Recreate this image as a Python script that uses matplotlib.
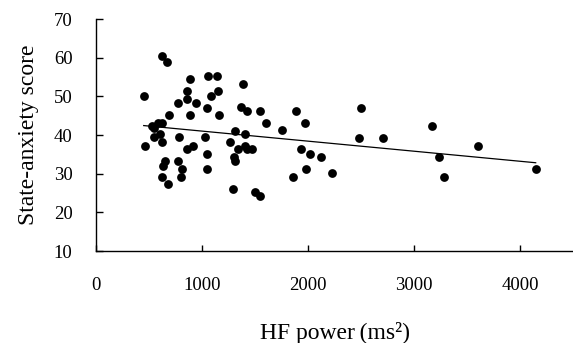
import numpy as np
import matplotlib.pyplot as plt

plt.rcParams['font.family'] = ['Liberation Serif', 'DejaVu Serif']

# HF power (ms^2) and state-anxiety score
hf_power = [450, 460, 625, 670, 525, 550, 582, 620, 550, 607,
            623, 689, 648, 629, 619, 682, 783, 774, 808, 799,
            774, 858, 858, 884, 943, 884, 855, 918, 1028, 1044,
            1044, 1050, 1057, 1138, 1085, 1154, 1160, 1267, 1305, 1311,
            1289, 1311, 1336, 1384, 1368, 1425, 1406, 1406, 1421, 1469,
            1503, 1544, 1544, 1607, 1752,
            1887, 1969, 1931, 2022, 2122, 1978, 1862, 2223, 2502, 2477,
            2703, 3174, 3234, 3281, 3601, 4148]
anxiety = [50.1, 37.2, 60.4, 59.0, 42.3, 41.7, 43.0, 43.2, 39.4, 40.2,
           38.1, 45.3, 33.3, 32.1, 29.2, 27.4, 39.4, 33.3, 31.2, 29.2,
           48.3, 51.4, 49.2, 54.4, 48.3, 45.2, 36.3, 37.2, 39.4, 35.1,
           31.2, 47.1, 55.2, 55.2, 50.1, 51.3, 45.2, 38.2, 34.2, 33.3,
           26.1, 41.1, 36.3, 53.2, 47.3, 46.2, 40.2, 37.2, 36.3, 36.3,
           25.3, 24.2, 46.3, 43.2, 41.2,
           46.2, 43.2, 36.3, 35.1, 34.2, 31.1, 29.1, 30.2, 47.1, 39.3,
           39.3, 42.3, 34.2, 29.1, 37.1, 31.1]

x = np.array(hf_power)
y = np.array(anxiety)
slope, intercept = np.polyfit(x, y, 1)
xfit = np.array([x.min(), x.max()])

fig = plt.figure(figsize=(5.73, 3.43), dpi=100)
ax = fig.add_axes([96/573, 1-251/343, 1-96/573, 232/343])

ax.scatter(x, y, s=40, color='black', zorder=3, linewidths=0)
ax.plot(xfit, intercept + slope*xfit, color='black', lw=0.9)

ax.set_xlim(0, 4500)
ax.set_ylim(10, 70)
ax.set_xticks([0, 1000, 2000, 3000, 4000])
ax.set_yticks(range(10, 71, 10))
for s in ['top', 'right']:
    ax.spines[s].set_visible(False)
for s in ['left', 'bottom']:
    ax.spines[s].set_linewidth(1.0)
ax.tick_params(axis='y', direction='in', length=5, width=1.0, pad=17, labelsize=13.5)
ax.tick_params(axis='x', direction='in', length=4.5, width=1.0, pad=19, labelsize=13.5)

ax.set_xlabel('HF power\u2009(ms²)', fontsize=17)
ax.xaxis.set_label_coords(0.5, -0.353)
ax.xaxis.label.set_va('center')
ax.set_ylabel('State-anxiety score', fontsize=17)
ax.yaxis.set_label_coords(-0.142, 0.5)
ax.yaxis.label.set_va('center')

fig.savefig('out.png', dpi=100)
